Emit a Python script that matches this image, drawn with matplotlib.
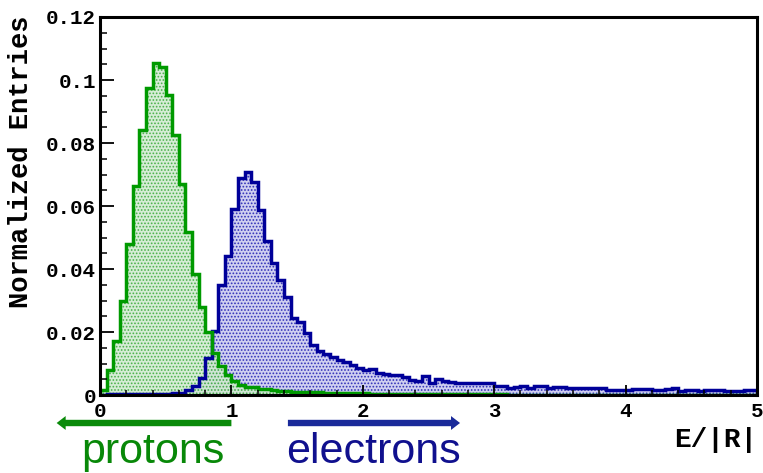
import numpy as np
import matplotlib
matplotlib.use("Agg")
import matplotlib.pyplot as plt
import matplotlib.transforms as mtransforms
from matplotlib.ticker import MultipleLocator, FuncFormatter

# E/|R| histograms, 100 bins from 0 to 5
edges = np.linspace(0, 5, 101)

protons = [0.0016, 0.0079, 0.0171, 0.0300, 0.0480, 0.0665, 0.0840, 0.0976, 0.1053, 0.1042,
           0.0952, 0.0825, 0.0670, 0.0518, 0.0384, 0.0280, 0.0199, 0.0133, 0.0091, 0.0062,
           0.0045, 0.0032, 0.0025, 0.0024, 0.0019, 0.0018, 0.0015, 0.0014, 0.0013, 0.0010,
           0.0009, 0.0009, 0.0008, 0.0008, 0.0007, 0.0007, 0.0006, 0.0006, 0.0005, 0.0005,
           0.0005, 0.0004, 0.0004, 0.0004, 0.0004, 0.0003, 0.0003, 0.0003, 0.0003, 0.0003,
           0.0003, 0.0002, 0.0002, 0.0002, 0.0002, 0.0002, 0.0002, 0.0002, 0.0002, 0.0002,
           0.0002, 0.0002, 0.0001, 0.0001, 0.0001, 0.0001, 0.0001, 0.0001, 0.0001, 0.0001,
           0.0001, 0.0001, 0.0001, 0.0001, 0.0001, 0.0001, 0.0001, 0.0001, 0.0001, 0.0001,
           0.0001, 0.0001, 0.0001, 0.0001, 0.0001, 0.0001, 0.0001, 0.0001, 0.0001, 0.0001,
           0.0001, 0.0001, 0.0001, 0.0001, 0.0001, 0.0001, 0.0001, 0.0001, 0.0001, 0.0001]

electrons = [0.0001, 0.0002, 0.0002, 0.0002, 0.0002, 0.0003, 0.0003, 0.0003, 0.0003, 0.0004,
             0.0004, 0.0005, 0.0007, 0.0016, 0.0030, 0.0053, 0.0118, 0.0203, 0.0350, 0.0442,
             0.0590, 0.0688, 0.0709, 0.0677, 0.0587, 0.0489, 0.0418, 0.0365, 0.0312, 0.0243,
             0.0233, 0.0197, 0.0159, 0.0140, 0.0130, 0.0120, 0.0111, 0.0106, 0.0095, 0.0086,
             0.0080, 0.0083, 0.0070, 0.0068, 0.0063, 0.0062, 0.0058, 0.0047, 0.0046, 0.0059,
             0.0038, 0.0050, 0.0044, 0.0040, 0.0039, 0.0039, 0.0038, 0.0038, 0.0038, 0.0038,
             0.0028, 0.0028, 0.0023, 0.0026, 0.0028, 0.0023, 0.0030, 0.0030, 0.0021, 0.0025,
             0.0025, 0.0023, 0.0023, 0.0021, 0.0021, 0.0023, 0.0021, 0.0016, 0.0016, 0.0016,
             0.0016, 0.0018, 0.0020, 0.0020, 0.0016, 0.0016, 0.0018, 0.0021, 0.0012, 0.0016,
             0.0016, 0.0014, 0.0017, 0.0017, 0.0017, 0.0013, 0.0013, 0.0014, 0.0016, 0.0016]

green = '#009a00'
blue = '#000099'
mono = ['Liberation Mono', 'DejaVu Sans Mono']

plt.rcParams['hatch.linewidth'] = 0.8

fig = plt.figure(figsize=(7.63, 4.73), dpi=100)
ax = fig.add_axes([100/763, 1-395/473, 657/763, 378/473])

# filled stipple + outline, blue first then green on top
ax.stairs(electrons, edges, fill=True, facecolor='#cfcff0', edgecolor='#3030b8',
          hatch='.....', linewidth=0)
ax.stairs(protons, edges, fill=True, facecolor='#cfeacf', edgecolor='#38a838',
          hatch='.....', linewidth=0, alpha=0.85)
ax.stairs(electrons, edges, color=blue, linewidth=2.5)
ax.stairs(protons, edges, color=green, linewidth=2.5)

ax.set_xlim(0, 5)
ax.set_ylim(0, 0.12)

for s in ax.spines.values():
    s.set_linewidth(2.2)

ax.xaxis.set_major_locator(MultipleLocator(1))
ax.xaxis.set_minor_locator(MultipleLocator(0.2))
ax.yaxis.set_major_locator(MultipleLocator(0.02))
ax.yaxis.set_minor_locator(MultipleLocator(0.005))
ax.yaxis.set_major_formatter(FuncFormatter(lambda v, p: '%g' % round(v, 3)))
ax.xaxis.set_major_formatter(FuncFormatter(lambda v, p: '%g' % v))

ax.tick_params(axis='y', which='major', direction='in', length=10, width=1.3, pad=3)
ax.tick_params(axis='y', which='minor', direction='in', length=5, width=1.1)
ax.tick_params(axis='x', which='major', direction='in', length=7, width=1.3, pad=5)
ax.tick_params(axis='x', which='minor', direction='in', length=3.5, width=1.1)
for lab in ax.get_xticklabels() + ax.get_yticklabels():
    lab.set_family(mono)
    lab.set_fontweight('bold')
    lab.set_fontsize(15)

fig.text(21/763, 1-15/473, 'Normalized Entries', rotation=90, ha='center', va='top',
         family=mono, fontweight='bold', fontsize=19.5)
fig.text(757/763, 1-440/473, 'E/|R|', ha='right', va='center',
         family=mono, fontweight='bold', fontsize=20)

# particle arrows under the axis
ya = 1 - 423/473
arrow = 'simple,head_width=1.0,head_length=0.65,tail_width=0.46'
mixed = ('data', 'figure fraction')
ax.annotate('', xy=(-0.33, ya), xytext=(1.0, ya), xycoords=mixed, textcoords=mixed,
            annotation_clip=False,
            arrowprops=dict(arrowstyle=arrow, color='#0a8a0a', lw=0, mutation_scale=10,
                            shrinkA=0, shrinkB=0))
ax.annotate('', xy=(2.74, ya), xytext=(1.43, ya), xycoords=mixed, textcoords=mixed,
            annotation_clip=False,
            arrowprops=dict(arrowstyle=arrow, color='#1a2a9a', lw=0, mutation_scale=10,
                            shrinkA=0, shrinkB=0))

sans = ['Liberation Sans Narrow', 'Liberation Sans', 'DejaVu Sans']
tr = mtransforms.blended_transform_factory(ax.transData, fig.transFigure)
ax.text(0.40, 1-452/473, 'protons', transform=tr, ha='center', va='center',
        color='#088808', family=sans, fontsize=31, clip_on=False)
ax.text(2.08, 1-452/473, 'electrons', transform=tr, ha='center', va='center',
        color='#10108e', family=sans, fontsize=31, clip_on=False)

fig.savefig('out.png', dpi=100)
